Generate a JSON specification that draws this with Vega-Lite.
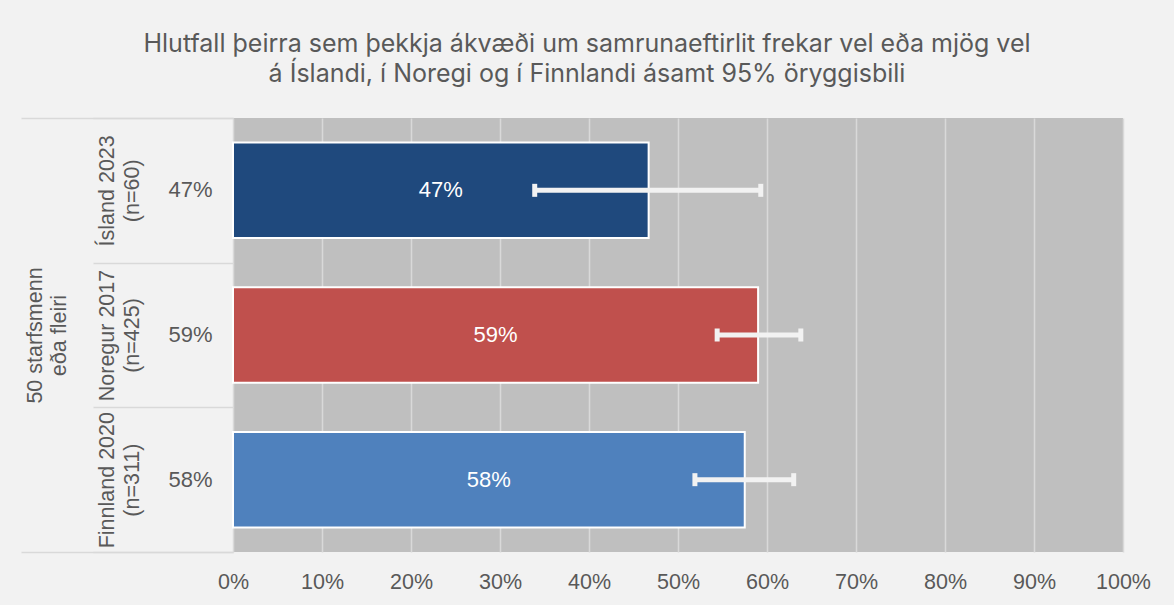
{
  "$schema": "https://vega.github.io/schema/vega-lite/v6.json",
  "width": 890,
  "height": 434,
  "autosize": {"type": "none"},
  "padding": {"left": 233, "top": 118, "right": 51, "bottom": 53},
  "background": "#f2f2f2",
  "title": {
    "text": ["Hlutfall þeirra sem þekkja ákvæði um samrunaeftirlit frekar vel eða mjög vel", "á Íslandi, í Noregi og í Finnlandi ásamt 95% öryggisbili"],
    "font": "Inter",
    "fontSize": 25,
    "fontWeight": "normal",
    "color": "#595959",
    "anchor": "middle",
    "frame": "group",
    "dx": -91,
    "lineHeight": 30,
    "offset": 30
  },
  "data": {
    "values": [
      {"cat": "Ísland 2023|(n=60)", "pct": "47%", "grp": "50 starfsmenn|eða fleiri", "value": 0.467, "lo": 0.339, "hi": 0.593},
      {"cat": "Noregur 2017|(n=425)", "pct": "59%", "grp": "50 starfsmenn|eða fleiri", "value": 0.590, "lo": 0.544, "hi": 0.638},
      {"cat": "Finnland 2020|(n=311)", "pct": "58%", "grp": "50 starfsmenn|eða fleiri", "value": 0.575, "lo": 0.519, "hi": 0.630}
    ]
  },
  "resolve": {"scale": {"y": "independent"}, "axis": {"y": "independent"}},
  "layer": [
    {
      "mark": {"type": "tick", "opacity": 0},
      "encoding": {
        "y": {
          "field": "grp", "type": "nominal",
          "scale": {"paddingInner": 0, "paddingOuter": 0},
          "axis": {
            "orient": "left",
            "title": null, "domain": false, "ticks": true, "tickBand": "extent",
            "tickSize": 212, "tickColor": "#d9d9d9", "tickWidth": 1.5,
            "labelAngle": -90, "labelAlign": "center", "labelBaseline": "middle",
            "labelPadding": -14.5, "labelExpr": "split(datum.label, '|')",
            "labelLineHeight": 24, "labelFontSize": 21.5
          }
        },
        "x": {"field": "value", "type": "quantitative", "title": null,
          "axis": {"values": [0, 0.1, 0.2, 0.3, 0.4, 0.5, 0.6, 0.7, 0.8, 0.9, 1], "format": ".0%"}}
      }
    },
    {
      "mark": {"type": "bar", "stroke": "#ffffff", "strokeWidth": 2},
      "encoding": {
        "y": {
          "field": "pct", "type": "nominal", "sort": null,
          "scale": {"paddingInner": 0.34, "paddingOuter": 0.17},
          "axis": {"orient": "left", "title": null, "domain": false, "ticks": false, "labelPadding": 21, "labelFontSize": 22}
        },
        "x": {
          "field": "value", "type": "quantitative", "title": null,
          "scale": {"domain": [0, 1], "nice": false},
          "axis": {"values": [0, 0.1, 0.2, 0.3, 0.4, 0.5, 0.6, 0.7, 0.8, 0.9, 1], "format": ".0%"}
        },
        "color": {
          "field": "cat", "type": "nominal", "sort": null,
          "scale": {"range": ["#1f497d", "#c0504d", "#4f81bd"]},
          "legend": null
        }
      }
    },
    {
      "mark": {"type": "rule", "color": "#f2f2f2", "strokeWidth": 5},
      "encoding": {
        "y": {
          "field": "cat", "type": "nominal", "sort": null,
          "scale": {"paddingInner": 0, "paddingOuter": 0},
          "axis": {
            "orient": "left",
            "title": null, "domain": false, "ticks": true, "tickBand": "extent",
            "tickSize": 140, "tickColor": "#d9d9d9", "tickWidth": 1.5,
            "labelAngle": -90, "labelAlign": "center", "labelBaseline": "middle",
            "labelPadding": -14, "labelExpr": "split(datum.label, '|')",
            "labelLineHeight": 25, "labelFontSize": 21.5
          }
        },
        "x": {"field": "lo", "type": "quantitative", "title": null,
          "axis": {"values": [0, 0.1, 0.2, 0.3, 0.4, 0.5, 0.6, 0.7, 0.8, 0.9, 1], "format": ".0%"}},
        "x2": {"field": "hi"}
      }
    },
    {
      "mark": {"type": "tick", "color": "#f2f2f2", "thickness": 5, "size": 13, "opacity": 1},
      "encoding": {
        "y": {"field": "cat", "type": "nominal", "sort": null, "axis": null},
        "x": {"field": "lo", "type": "quantitative", "title": null,
          "axis": {"values": [0, 0.1, 0.2, 0.3, 0.4, 0.5, 0.6, 0.7, 0.8, 0.9, 1], "format": ".0%"}}
      }
    },
    {
      "mark": {"type": "tick", "color": "#f2f2f2", "thickness": 5, "size": 13, "opacity": 1},
      "encoding": {
        "y": {"field": "cat", "type": "nominal", "sort": null, "axis": null},
        "x": {"field": "hi", "type": "quantitative", "title": null,
          "axis": {"values": [0, 0.1, 0.2, 0.3, 0.4, 0.5, 0.6, 0.7, 0.8, 0.9, 1], "format": ".0%"}}
      }
    },
    {
      "mark": {"type": "text", "color": "#ffffff", "fontSize": 22, "font": "Liberation Sans", "baseline": "middle", "align": "center"},
      "encoding": {
        "y": {"field": "cat", "type": "nominal", "sort": null, "axis": null},
        "x": {"field": "value", "type": "quantitative", "title": null, "stack": "zero", "bandPosition": 0.5,
          "axis": {"values": [0, 0.1, 0.2, 0.3, 0.4, 0.5, 0.6, 0.7, 0.8, 0.9, 1], "format": ".0%"}},
        "text": {"field": "pct"}
      }
    }
  ],
  "config": {
    "view": {"fill": "#bfbfbf", "stroke": null},
    "axis": {
      "labelFont": "Liberation Sans", "labelFontSize": 21.5, "labelColor": "#595959"
    },
    "axisX": {
      "grid": true, "gridColor": "#d9d9d9", "gridWidth": 1.5,
      "ticks": false, "domain": false, "labelPadding": 19, "labelFlush": false
    },
    "axisY": {"grid": false}
  }
}
